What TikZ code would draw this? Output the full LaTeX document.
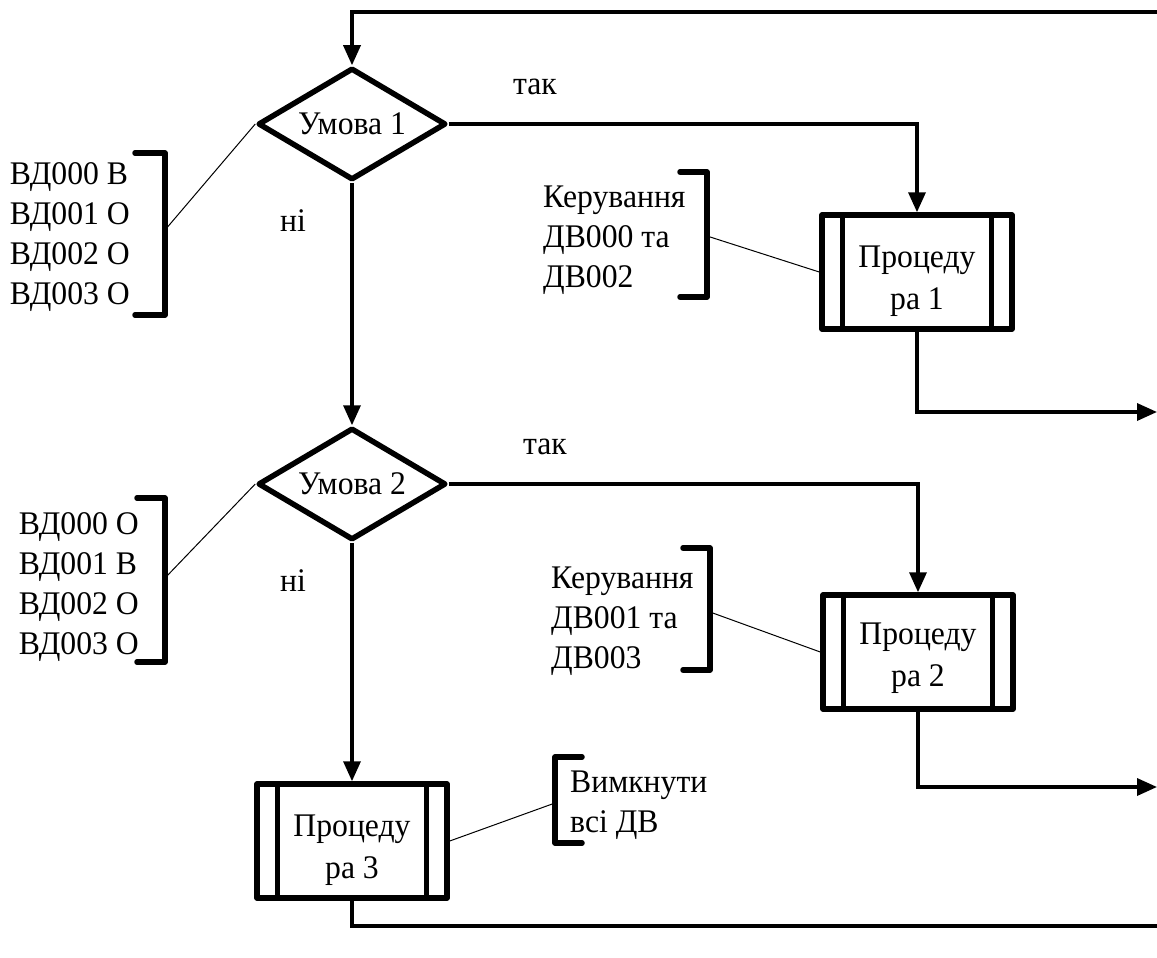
\documentclass[tikz,border=0pt]{standalone}
\usepackage{fontspec}
\setmainfont{Liberation Serif}[FakeStretch=0.96]
\usetikzlibrary{calc,positioning,arrows.meta,shapes.geometric}
\definecolor{fcInk}{HTML}{000000}
\definecolor{fcPaper}{HTML}{FFFFFF}
\tikzset{
  flow/.style  = {line width=3.4pt, color=fcInk,
                  -{Triangle[length=20pt,width=17pt]}},
  plain/.style = {line width=3.4pt, color=fcInk},
  lead/.style  = {line width=1pt, color=fcInk},
  brk/.style   = {line width=5.5pt, color=fcInk, line cap=round, line join=round},
  frame/.style = {line width=5pt, color=fcInk},
  cond/.style  = {diamond, draw=fcInk, line width=5.5pt, line join=round,
                  aspect=1.68, inner sep=0pt, minimum width=188pt,
                  minimum height=112pt, font=\fontsize{33}{40}\selectfont},
  proc/.style  = {rectangle, draw=fcInk, line width=5.5pt, line join=round,
                  minimum width=190pt, minimum height=114pt, inner sep=0pt},
  txt/.style   = {inner sep=0pt, align=left, text=fcInk,
                  font=\fontsize{33}{40}\selectfont},
  ptxt/.style  = {inner sep=0pt, align=center, text=fcInk,
                  font=\fontsize{33}{42}\selectfont},
}

\begin{document}
\begin{tikzpicture}[x=1pt, y=-1pt]

\useasboundingbox[fill=fcPaper] (0,0) rectangle (1157,958);

% --- free ends at the right edge ---
\coordinate (topR) at (1157,12);
\coordinate (outOne) at (1157,412);
\coordinate (outTwo) at (1157,787);
\coordinate (botR) at (1157,926);

% --- conditions ---
\node[cond] (dOne) at (352,124) {Умова 1};
\node[cond] (dTwo) at (352,484) {Умова 2};

% --- procedures ---
\node[proc] (pOne) at (917,272) {};
\node[proc] (pTwo) at (918,652) {};
\node[proc] (pThree) at (352,841) {};
\node[ptxt] (pOneT) at (917,281) {Процеду\\ра 1};
\node[ptxt] (pTwoT) at (918,658) {Процеду\\ра 2};
\node[ptxt] (pThreeT) at (352,850) {Процеду\\ра 3};

% side bars of the procedure boxes
\foreach \p in {pOne,pTwo,pThree} {
  \draw[frame] ([xshift=23pt]\p.north west) -- ([xshift=23pt]\p.south west);
  \draw[frame] ([xshift=-23pt]\p.north east) -- ([xshift=-23pt]\p.south east);
}

% --- flow ---
\draw[flow] (topR) -| (dOne.north);
\draw[flow] (dOne.east) -| (pOne.north);
\draw[flow] (dOne.south) -- (dTwo.north);
\draw[flow] (pOne.south) |- (outOne);
\draw[flow] (dTwo.east) -| (pTwo.north);
\draw[flow] (dTwo.south) -- (pThree.north);
\draw[flow] (pTwo.south) |- (outTwo);
\draw[plain] (pThree.south) |- (botR);

% branch labels
\node[txt] (yesOne) at (535,87) {так};
\node[txt] (yesTwo) at (545,447) {так};
\node[txt] (noOne) at (293,221) {ні};
\node[txt] (noTwo) at (293,581) {ні};

% --- comments: inputs of condition 1 ---
\node[txt, anchor=east] (inOne) at (130,237)
  {ВД000 В\\ВД001 О\\ВД002 О\\ВД003 О};
\draw[brk] (135,153) -- (165,153) -- (165,315) -- (135,315);
\coordinate (bOne) at (165,230);
\draw[lead] (bOne) -- (dOne.west);

% --- comments: inputs of condition 2 ---
\node[txt, anchor=east] (inTwo) at (139,587)
  {ВД000 О\\ВД001 В\\ВД002 О\\ВД003 О};
\draw[brk] (137,498) -- (165,498) -- (165,662) -- (137,662);
\coordinate (bTwo) at (165,578);
\draw[lead] (bTwo) -- (dTwo.west);

% --- comments: procedure 1 ---
\node[txt, anchor=west] (ctlOne) at (543,240)
  {Керування\\ДВ000 та\\ДВ002};
\draw[brk] (680,172) -- (707,172) -- (707,297) -- (680,297);
\coordinate (bThree) at (707,236);
\draw[lead] (bThree) -- (pOne.west);

% --- comments: procedure 2 ---
\node[txt, anchor=west] (ctlTwo) at (551,621)
  {Керування\\ДВ001 та\\ДВ003};
\draw[brk] (683,548) -- (710,548) -- (710,670) -- (683,670);
\coordinate (bFour) at (710,612);
\draw[lead] (bFour) -- (pTwo.west);

% --- comments: procedure 3 ---
\node[txt, anchor=west] (offAll) at (570,805)
  {Вимкнути\\всі ДВ};
\draw[brk] (582,757) -- (555,757) -- (555,843) -- (582,843);
\coordinate (bFive) at (555,803);
\draw[lead] (pThree.east) -- (bFive);

\end{tikzpicture}
\end{document}
